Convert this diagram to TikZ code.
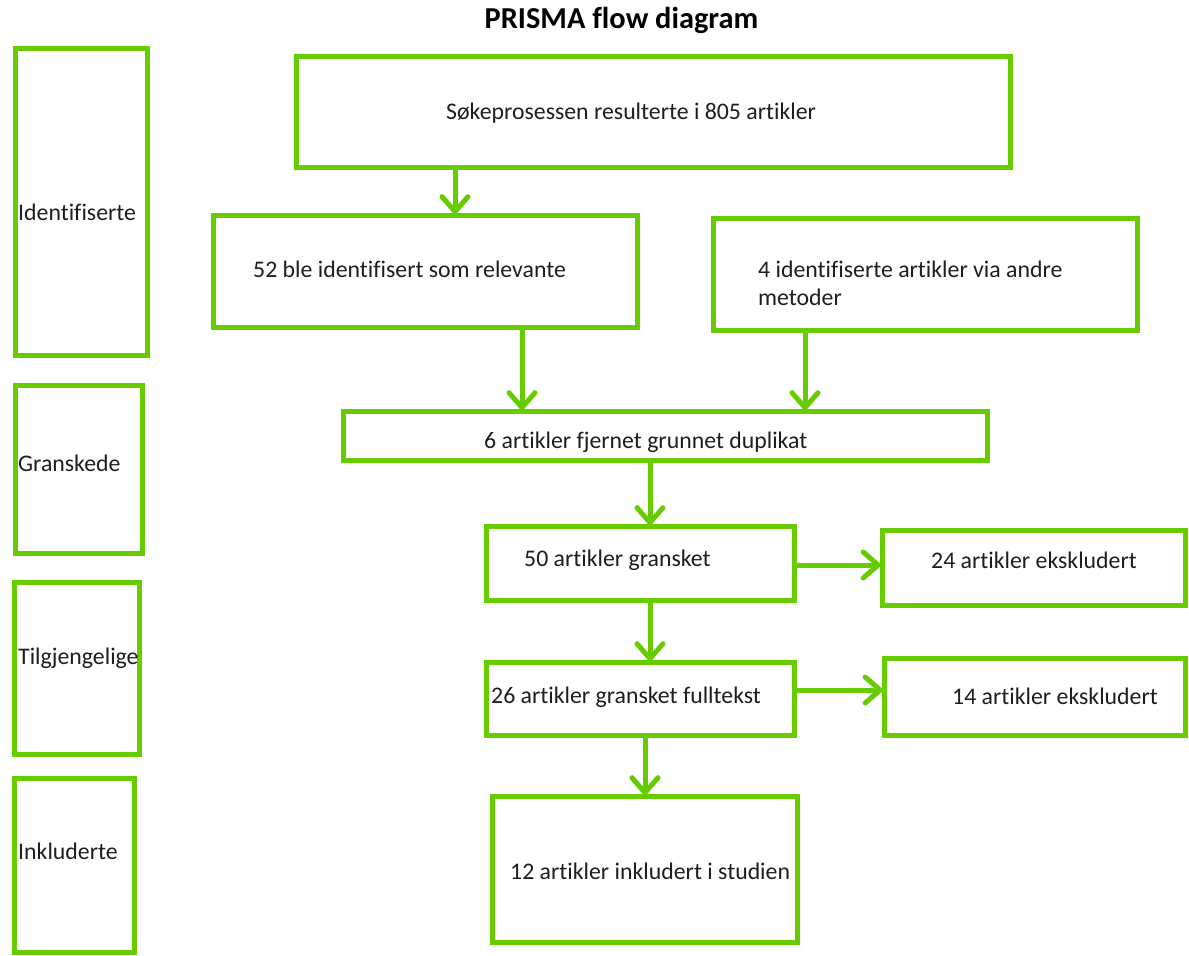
\documentclass[tikz,border=0pt]{standalone}
\usepackage{fontspec}
\setmainfont{Carlito}[Ligatures={NoCommon}]
\usetikzlibrary{arrows.meta}
\definecolor{pgreen}{RGB}{102,204,0}
\definecolor{ptext}{RGB}{30,30,30}
\begin{document}
\begin{tikzpicture}[x=1pt,y=-1pt,
  box/.style={draw=pgreen,line width=5pt,rectangle,inner sep=0pt,outer sep=0pt,fill=white},
  lbl/.style={anchor=west,inner sep=0pt,text=ptext,font=\fontsize{23.8}{28}\selectfont,align=left},
  arr/.style={draw=pgreen,line width=5pt,-{Straight Barb[length=15pt,width=26pt,line cap=round]}},
  ttl/.style={inner sep=0pt,text=black,font=\bfseries\fontsize{30.4}{34}\selectfont}]
\fill[white] (0,0) rectangle (1189,956);
\useasboundingbox (0,0) rectangle (1189,956);

\node[ttl] (title) at (621.5,20) {PRISMA flow diagram};

% left stage boxes
\node[box,minimum width=132pt,minimum height=307pt] (L1) at (81.5,202) {};
\node[box,minimum width=127pt,minimum height=168pt] (L2) at (79,469.5) {};
\node[box,minimum width=125pt,minimum height=172pt] (L3) at (77,668.5) {};
\node[box,minimum width=120pt,minimum height=174pt] (L4) at (74.5,865) {};
\node[lbl] (tL1) at (18,212) {Identifiserte};
\node[lbl] (tL2) at (18,463) {Granskede};
\node[lbl] (tL3) at (18,658) {Tilgjengelige};
\node[lbl] (tL4) at (18,851) {Inkluderte};

% flow boxes
\node[box,minimum width=714pt,minimum height=111pt] (A) at (653.5,112) {};
\node[box,minimum width=424pt,minimum height=112pt] (B) at (425.5,271.5) {};
\node[box,minimum width=424pt,minimum height=112pt] (C) at (925.5,274.5) {};
\node[box,minimum width=644pt,minimum height=49pt] (D) at (665.5,436) {};
\node[box,minimum width=308pt,minimum height=74pt] (E) at (640.5,563.5) {};
\node[box,minimum width=303pt,minimum height=75pt] (F) at (1033.5,567.5) {};
\node[box,minimum width=308pt,minimum height=73pt] (G) at (640.5,699) {};
\node[box,minimum width=301pt,minimum height=77pt] (H) at (1034.5,696.5) {};
\node[box,minimum width=305pt,minimum height=146pt] (I) at (645,869.5) {};

\node[lbl] (tA) at (446,113) {Søkeprosessen resulterte i 805 artikler};
\node[lbl] (tB) at (253,269) {52 ble identifisert som relevante};
\node[lbl] (tC) at (758,283) {4 identifiserte artikler via andre\\metoder};
\node[lbl] (tD) at (484,442) {6 artikler fjernet grunnet duplikat};
\node[lbl] (tE) at (524,560) {50 artikler gransket};
\node[lbl] (tF) at (931,560) {24 artikler ekskludert};
\node[lbl] (tG) at (491,697) {26 artikler gransket fulltekst};
\node[lbl] (tH) at (952,696) {14 artikler ekskludert};
\node[lbl] (tI) at (510,871) {12 artikler inkludert i studien};

% connectors
\draw[arr] (A.south -| 455,0) -- (B.north -| 455,0);
\draw[arr] (B.south -| 522,0) -- (D.north -| 522,0);
\draw[arr] (C.south -| 805,0) -- (D.north -| 805,0);
\draw[arr] (D.south -| 650,0) -- (E.north -| 650,0);
\draw[arr] (E.east |- 0,565) -- (F.west |- 0,565);
\draw[arr] (E.south -| 650,0) -- (G.north -| 650,0);
\draw[arr] (G.east |- 0,690) -- (H.west |- 0,690);
\draw[arr] (G.south -| 645,0) -- (I.north -| 645,0);
\end{tikzpicture}
\end{document}
